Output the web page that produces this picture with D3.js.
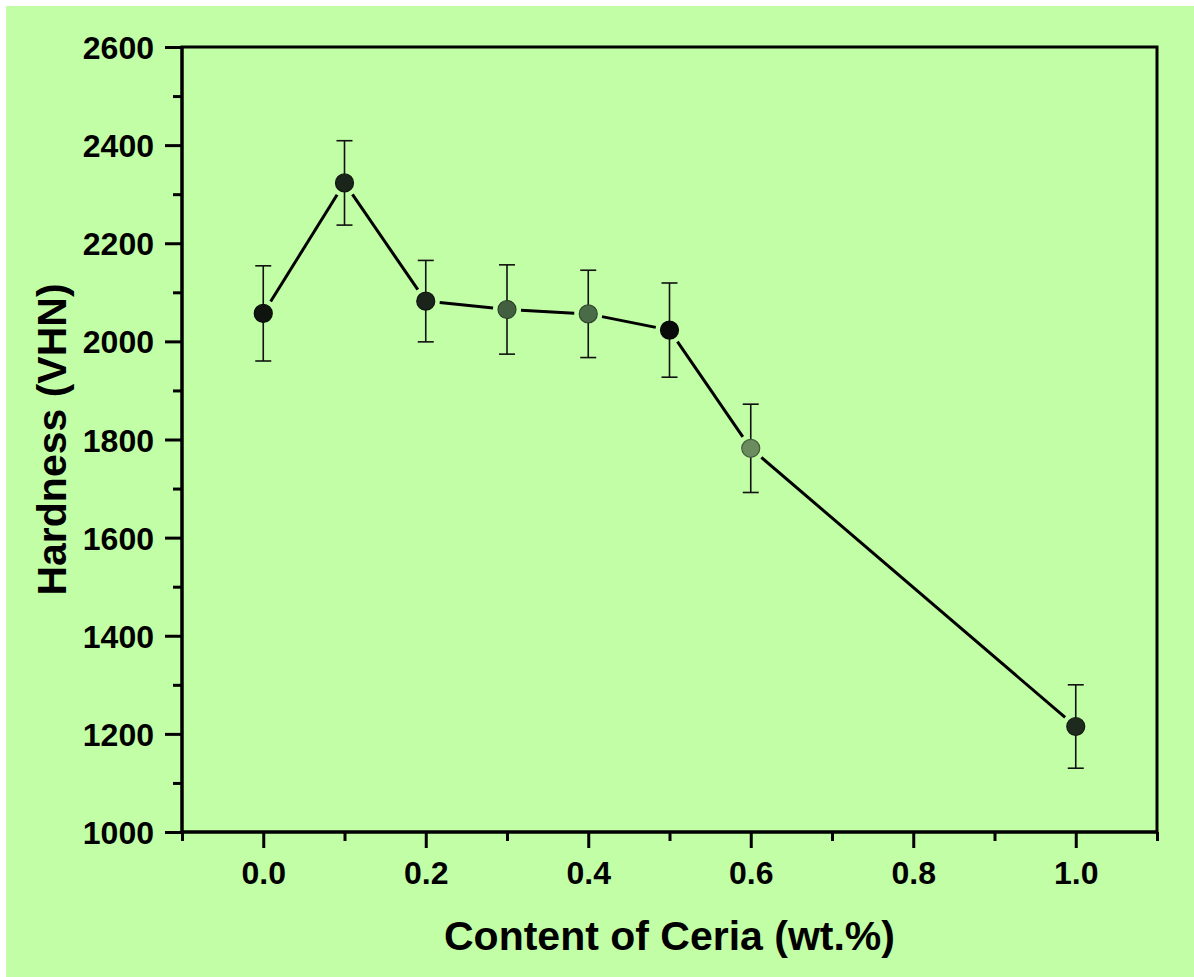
<!DOCTYPE html>
<html><head><meta charset="utf-8">
<script src="https://cdn.jsdelivr.net/npm/d3@7"></script>
<style>
html,body{margin:0;padding:0;background:#fff;}
svg{display:block;}
text{font-family:"Liberation Sans",Arial,sans-serif;font-weight:bold;fill:#000;}
</style></head>
<body>
<script>
const ceria = [0.0, 0.1, 0.2, 0.3, 0.4, 0.5, 0.6, 1.0];
const hardness = [2057, 2323, 2082, 2065, 2056, 2023, 1782, 1215];
const errors = [97, 86, 83, 91, 89, 96, 90, 85];
const markerFills = ["#0f140f", "#1a241a", "#1a241a", "#42603f", "#4a6b47", "#0a0a0a", "#6a8c5e", "#1e2a1e"];
const xTicks = [0.0, 0.2, 0.4, 0.6, 0.8, 1.0];
const yTicks = [1000, 1200, 1400, 1600, 1800, 2000, 2200, 2400, 2600];

const W = 1194, H = 977;
const svg = d3.select("body").append("svg").attr("width", W).attr("height", H);
svg.append("rect").attr("x", 6).attr("y", 6).attr("width", W - 6).attr("height", H - 6).attr("fill", "#c2fea6");

const L = 182, R = 1157, T = 47, B = 832;
const x = d3.scaleLinear().domain([-0.1, 1.1]).range([L, R]);
const y = d3.scaleLinear().domain([1000, 2600]).range([B, T]);

const xMinor = d3.range(-0.1, 1.15, 0.2).map(v => +v.toFixed(2));
const yMinor = d3.range(1100, 2600, 200);
const FS = 32;

const gx = svg.append("g").attr("transform", `translate(0,${B})`);
gx.call(d3.axisBottom(x).tickValues(xMinor).tickSize(9).tickFormat(""));
gx.append("g").call(d3.axisBottom(x).tickValues(xTicks).tickSize(16).tickFormat(d3.format(".1f")));
gx.selectAll("path.domain").attr("stroke-width", 3).attr("d", `M${L},0H${R}`);
gx.selectAll(".tick line").attr("stroke", "#000").attr("stroke-width", 3);
gx.selectAll(".tick text").attr("font-size", FS).attr("y", 52).attr("dy", 0)
  .attr("font-family", "Liberation Sans, Arial, sans-serif").attr("font-weight", "bold").attr("fill", "#000");

const gy = svg.append("g").attr("transform", `translate(${L},0)`);
gy.call(d3.axisLeft(y).tickValues(yMinor).tickSize(9).tickFormat(""));
gy.append("g").call(d3.axisLeft(y).tickValues(yTicks).tickSize(17).tickPadding(11).tickFormat(d3.format("d")));
gy.selectAll("path.domain").attr("stroke-width", 3).attr("d", `M0,${B}V${T}`);
gy.selectAll(".tick line").attr("stroke", "#000").attr("stroke-width", 3);
gy.selectAll(".tick text").attr("font-size", FS).attr("dy", "0.36em")
  .attr("font-family", "Liberation Sans, Arial, sans-serif").attr("font-weight", "bold").attr("fill", "#000");

svg.append("path").attr("d", `M${L},${T}H${R}V${B}`).attr("fill", "none").attr("stroke", "#000").attr("stroke-width", 3).attr("stroke-linecap", "square");

const data = ceria.map((c, i) => ({c, h: hardness[i], e: errors[i], f: markerFills[i]}));
const gap = 14;
for (let i = 0; i < data.length - 1; i++) {
  const x1 = x(data[i].c), y1 = y(data[i].h), x2 = x(data[i+1].c), y2 = y(data[i+1].h);
  const d = Math.hypot(x2 - x1, y2 - y1), ux = (x2 - x1) / d, uy = (y2 - y1) / d;
  svg.append("line")
    .attr("x1", x1 + ux * gap).attr("y1", y1 + uy * gap)
    .attr("x2", x2 - ux * gap).attr("y2", y2 - uy * gap)
    .attr("stroke", "#000").attr("stroke-width", 3);
}

const eb = svg.append("g").attr("stroke", "#111").attr("stroke-width", 1.6);
data.forEach(d => {
  const cx = x(d.c);
  eb.append("line").attr("x1", cx).attr("x2", cx).attr("y1", y(d.h + d.e)).attr("y2", y(d.h - d.e));
  eb.append("line").attr("x1", cx - 8).attr("x2", cx + 8).attr("y1", y(d.h + d.e)).attr("y2", y(d.h + d.e));
  eb.append("line").attr("x1", cx - 8).attr("x2", cx + 8).attr("y1", y(d.h - d.e)).attr("y2", y(d.h - d.e));
});

svg.append("g").selectAll("circle").data(data).join("circle")
  .attr("cx", d => x(d.c)).attr("cy", d => y(d.h)).attr("r", 9)
  .attr("fill", d => d.f)
  .attr("stroke", d => d3.color(d.f).darker(1.2)).attr("stroke-width", 1.2);

svg.append("text").attr("x", (L + R) / 2).attr("y", 950).attr("text-anchor", "middle")
  .attr("font-size", 41).text("Content of Ceria (wt.%)");
svg.append("text").attr("transform", `translate(66,${(T + B) / 2}) rotate(-90)`).attr("text-anchor", "middle")
  .attr("font-size", 41).text("Hardness (VHN)");
</script>
</body></html>
